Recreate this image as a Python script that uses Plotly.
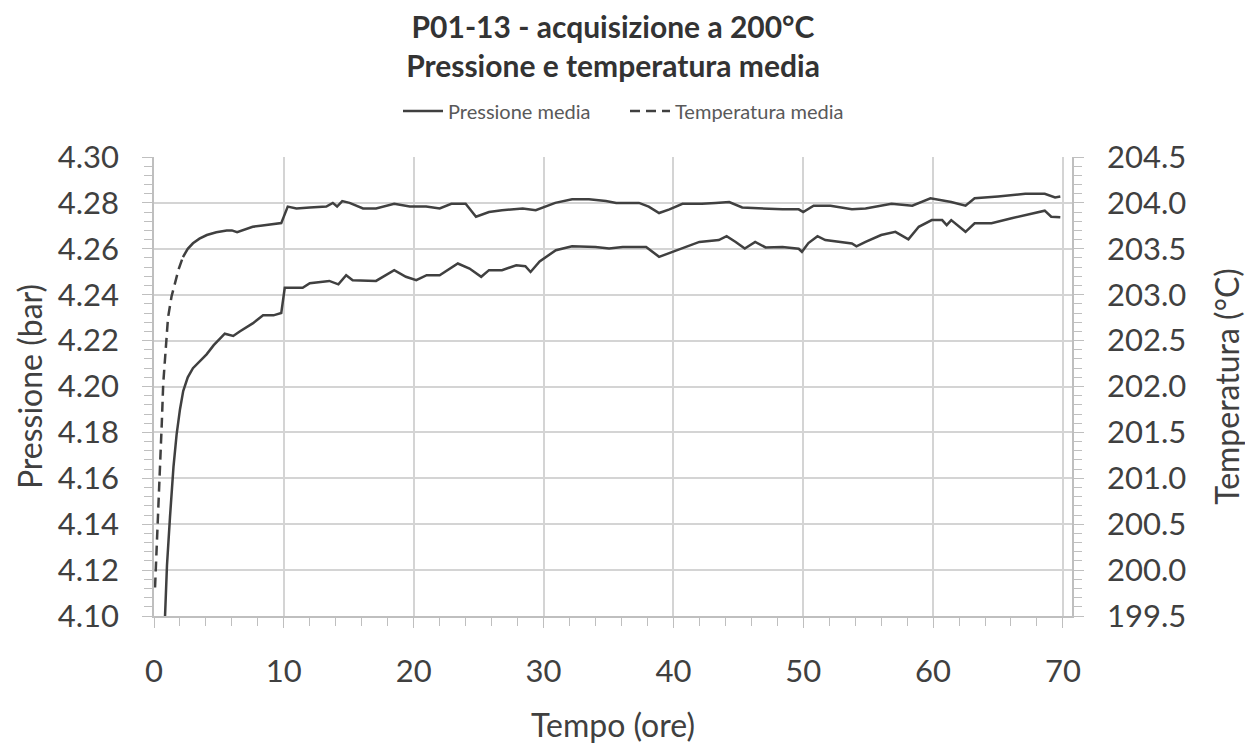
import plotly.graph_objects as go

# ---- data ----
ore_pressione = [0.85, 1.0, 1.23, 1.5, 1.74, 2.0, 2.25, 2.6, 3.0, 3.5, 4.05, 4.6, 5.07, 5.45, 6.1, 6.6,
                 7.6, 8.4, 9.2, 9.8, 10.07, 10.7, 11.45, 12.0, 13.5, 14.2, 14.8, 15.3, 17.1, 18.5,
                 19.4, 20.2, 21.0, 22.0, 23.4, 24.3, 25.2, 25.8, 26.8, 27.9, 28.6, 29.0, 29.7,
                 30.95, 32.2, 34.0, 35.05, 36.1, 37.9, 38.9, 39.9, 40.9, 42.0, 43.5, 44.1, 44.8,
                 45.5, 46.3, 47.1, 48.4, 49.65, 49.9, 50.4, 51.1, 51.7, 53.75, 54.1, 54.8, 56.0,
                 57.1, 58.1, 58.9, 59.9, 60.7, 61.05, 61.4, 62.5, 63.2, 64.5, 66.05, 67.6, 68.6,
                 69.1, 69.8]
pressione_media = [4.100, 4.122, 4.143, 4.165, 4.179, 4.190, 4.198, 4.204, 4.208, 4.211, 4.214, 4.218,
                   4.221, 4.223, 4.222, 4.224, 4.2275, 4.231, 4.231, 4.232, 4.243, 4.243, 4.243,
                   4.245, 4.246, 4.2445, 4.2485, 4.2463, 4.246, 4.2507, 4.2478, 4.2463, 4.2485,
                   4.2485, 4.2536, 4.2514, 4.2478, 4.2507, 4.2507, 4.2528, 4.2524, 4.2499, 4.2545,
                   4.2594, 4.2611, 4.2608, 4.2601, 4.2608, 4.2608, 4.2565, 4.2587, 4.2608, 4.263,
                   4.2638, 4.2655, 4.263, 4.2601, 4.263, 4.2606, 4.2608, 4.2600, 4.2587, 4.2625,
                   4.2655, 4.2638, 4.2623, 4.2611, 4.263, 4.266, 4.2674, 4.2641, 4.2696, 4.2725,
                   4.2725, 4.2703, 4.2725, 4.2674, 4.2711, 4.2711, 4.2733, 4.2754, 4.2766, 4.274,
                   4.2737]

ore_temperatura = [0.08, 0.25, 0.46, 0.6, 0.71, 0.9, 1.08, 1.35, 1.61, 1.9, 2.23, 2.6, 3.0, 3.5, 4.07,
                   4.8, 5.6, 6.0, 6.4, 7.0, 7.6, 8.2, 8.9, 9.8, 10.3, 10.97, 12.0, 13.27, 13.77,
                   14.1, 14.5, 15.06, 16.1, 17.1, 18.5, 19.7, 20.96, 22.0, 22.9, 24.0, 24.8, 25.8,
                   26.8, 28.4, 29.4, 30.2, 30.9, 32.2, 33.5, 34.8, 35.6, 37.35, 38.1, 38.9, 39.7,
                   40.7, 42.2, 43.25, 44.3, 45.3, 46.8, 48.4, 49.65, 50.0, 50.8, 52.1, 53.75, 54.8,
                   56.8, 58.4, 59.8, 61.4, 62.5, 63.2, 65.0, 67.1, 68.6, 69.4, 69.8]
temperatura_media = [199.81, 200.40, 200.94, 201.60, 202.03, 202.45, 202.75, 202.98, 203.12, 203.28,
                     203.41, 203.50, 203.56, 203.61, 203.65, 203.68, 203.70, 203.70, 203.68, 203.71,
                     203.74, 203.75, 203.76, 203.78, 203.96, 203.94, 203.95, 203.96, 204.00, 203.96,
                     204.02, 204.00, 203.94, 203.94, 203.99, 203.96, 203.96, 203.94, 203.99, 203.99,
                     203.85, 203.90, 203.92, 203.94, 203.92, 203.96, 204.00, 204.04, 204.04, 204.02,
                     204.00, 204.00, 203.96, 203.89, 203.93, 203.99, 203.99, 204.00, 204.01, 203.95,
                     203.94, 203.93, 203.93, 203.90, 203.97, 203.97, 203.93, 203.94, 203.99, 203.97,
                     204.05, 204.01, 203.97, 204.05, 204.07, 204.10, 204.10, 204.06, 204.07]

# where the dashes of the temperature line are visible (steep initial part)
n_tratteggio = 11

titolo = "P01-13 - acquisizione a 200°C<br>Pressione e temperatura media"
titolo_x = "Tempo (ore)"
titolo_y = "Pressione (bar)"
titolo_y2 = "Temperatura (°C)"

FONT = "Lato"
LINE = "#404040"
TXT = "#404040"
GRID = "#d4d4d4"
AX = "#bfbfbf"

W, H = 1245, 743  # the page body adds an 8 px margin on the left/top

fig = go.Figure()
fig.add_trace(go.Scatter(x=ore_pressione, y=pressione_media, mode="lines",
                         name="Pressione media", line=dict(color=LINE, width=2.5), yaxis="y"))
fig.add_trace(go.Scatter(x=ore_temperatura[:n_tratteggio], y=temperatura_media[:n_tratteggio],
                         mode="lines", name="Temperatura media",
                         line=dict(color=LINE, width=2.5, dash="10px,6px"), yaxis="y2"))
fig.add_trace(go.Scatter(x=ore_temperatura[n_tratteggio - 1:], y=temperatura_media[n_tratteggio - 1:],
                         mode="lines", name="Temperatura media", showlegend=False,
                         line=dict(color=LINE, width=2.5), yaxis="y2"))

fig.update_layout(
    width=W, height=H,
    paper_bgcolor="white", plot_bgcolor="white",
    margin=dict(l=146, r=181, t=149, b=135, autoexpand=False),
    font=dict(family=FONT, color=TXT),
    title=dict(text=titolo, x=0.5, xanchor="center", xref="paper", y=1 - 30 / H, yanchor="middle",
               yref="container", font=dict(family=FONT, size=30, color="#333333", weight="bold")),
    showlegend=True,
    legend=dict(orientation="h", x=0.2658, xanchor="left", xref="paper", y=1 - 103 / H,
                yanchor="middle", yref="container", font=dict(size=20, color="#595959"),
                traceorder="normal", itemwidth=40, entrywidth=172, entrywidthmode="pixels",
                bgcolor="rgba(0,0,0,0)"),
    xaxis=dict(range=[0, 70.7], dtick=10, tick0=0, showgrid=True, gridcolor=GRID, gridwidth=1.5,
               showline=True, linecolor=AX, linewidth=1.5, ticks="outside", ticklen=10,
               tickcolor=AX, tickfont=dict(size=31, color="#404040"), ticklabelstandoff=17,
               minor=dict(dtick=2, ticks="outside", ticklen=8, tickcolor=AX, showgrid=False),
               zeroline=False, automargin=False,
               title=dict(text=titolo_x, font=dict(size=32, color="#404040"), standoff=27)),
    yaxis=dict(range=[4.10, 4.30], dtick=0.02, tick0=4.10, tickformat=".2f", showgrid=True,
               gridcolor=GRID, gridwidth=1.5, showline=True, linecolor=AX, linewidth=1.5,
               ticks="outside", ticklen=10, tickcolor=AX,
               tickfont=dict(size=31, color="#404040"), ticklabelstandoff=17,
               minor=dict(dtick=0.004, ticks="outside", ticklen=8, tickcolor=AX, showgrid=False),
               zeroline=False, automargin=False,
               title=dict(text=titolo_y, font=dict(size=32, color="#404040"), standoff=6)),
    yaxis2=dict(range=[199.5, 204.5], dtick=0.5, tick0=199.5, tickformat=".1f", overlaying="y",
                side="right", showgrid=False, showline=True, linecolor=AX, linewidth=1.5,
                ticks="outside", ticklen=10, tickcolor=AX,
                tickfont=dict(size=31, color="#404040"), ticklabelstandoff=17,
                minor=dict(dtick=0.1, ticks="outside", ticklen=8, tickcolor=AX),
                zeroline=False, automargin=False,
                title=dict(text=titolo_y2, font=dict(size=32, color="#404040"), standoff=31)),
)

fig.write_html("out.html")
